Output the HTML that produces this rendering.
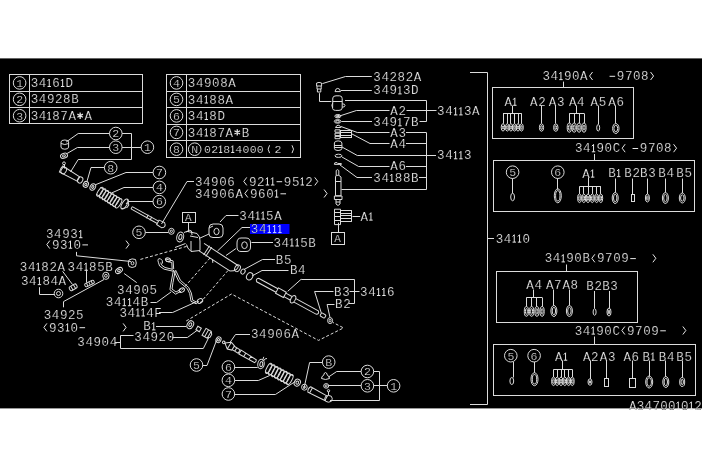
<!DOCTYPE html>
<html><head><meta charset="utf-8"><style>
html,body{margin:0;padding:0;background:#fff;}
svg{display:block;-webkit-font-smoothing:antialiased;will-change:transform;}
text{font-family:"Liberation Mono",monospace;stroke:#000;stroke-width:0.2px;}
</style></head><body>
<svg width="702" height="468" viewBox="0 0 702 468">
<rect x="0" y="0" width="702" height="468" fill="#ffffff"/>
<rect x="0" y="58.4" width="702" height="350" fill="#000000"/>
<g fill="none" stroke="#dcdcdc" stroke-width="1">
<rect x="9.5" y="74.5" width="133.0" height="49.0"/>
<polyline points="29.50,74.50 29.50,123.80"/>
<polyline points="9.80,91.50 142.80,91.50"/>
<polyline points="9.80,107.50 142.80,107.50"/>
<circle cx="19.6" cy="82.9" r="6.3"/>
<text x="16.2" y="86.7" font-size="11.5" fill="#dcdcdc" stroke="none">1</text>
<path d="M47.55,80.89 L49.25,79.09 L49.25,86.51 M47.55,86.51 L50.95,86.51" stroke="#e6e6e6"/>
<path d="M60.95,80.89 L62.65,79.09 L62.65,86.51 M60.95,86.51 L64.35,86.51" stroke="#e6e6e6"/>
<text x="30.7 38.8 52.2 65.6" y="87.0" font-size="12.5" fill="#e6e6e6" >346D</text>
<circle cx="19.6" cy="99.30000000000001" r="6.3"/>
<text x="16.2" y="103.1" font-size="11.5" fill="#dcdcdc" stroke="none">2</text>
<text x="30.7 38.8 46.9 55.0 63.1 71.2" y="103.4" font-size="12.5" fill="#e6e6e6" >34928B</text>
<circle cx="19.6" cy="115.7" r="6.3"/>
<text x="16.2" y="119.5" font-size="11.5" fill="#dcdcdc" stroke="none">3</text>
<path d="M47.55,113.69 L49.25,111.89 L49.25,119.31 M47.55,119.31 L50.95,119.31" stroke="#e6e6e6"/>
<path d="M80.15,112.50 L80.15,118.90 M77.37,114.10 L82.93,117.30 M77.37,117.30 L82.93,114.10" stroke="#e6e6e6" stroke-width="1.3"/>
<text x="30.7 38.8 52.2 60.3 68.4 84.6" y="119.8" font-size="12.5" fill="#e6e6e6" >3487AA</text>
<rect x="166.5" y="74.5" width="134.0" height="83.0"/>
<polyline points="186.50,74.50 186.50,157.70"/>
<polyline points="166.60,91.50 300.50,91.50"/>
<polyline points="166.60,107.50 300.50,107.50"/>
<polyline points="166.60,124.50 300.50,124.50"/>
<polyline points="166.60,140.50 300.50,140.50"/>
<circle cx="176.5" cy="82.9" r="6.3"/>
<text x="173.1" y="86.7" font-size="11.5" fill="#dcdcdc" stroke="none">4</text>
<text x="187.8 195.9 204.0 212.1 220.2 228.3" y="87.0" font-size="12.5" fill="#e6e6e6" >34908A</text>
<circle cx="176.5" cy="99.4" r="6.3"/>
<text x="173.1" y="103.2" font-size="11.5" fill="#dcdcdc" stroke="none">5</text>
<path d="M204.65,97.39 L206.35,95.59 L206.35,103.01 M204.65,103.01 L208.05,103.01" stroke="#e6e6e6"/>
<text x="187.8 195.9 209.3 217.4 225.5" y="103.5" font-size="12.5" fill="#e6e6e6" >3488A</text>
<circle cx="176.5" cy="115.9" r="6.3"/>
<text x="173.1" y="119.7" font-size="11.5" fill="#dcdcdc" stroke="none">6</text>
<path d="M204.65,113.89 L206.35,112.09 L206.35,119.51 M204.65,119.51 L208.05,119.51" stroke="#e6e6e6"/>
<text x="187.8 195.9 209.3 217.4" y="120.0" font-size="12.5" fill="#e6e6e6" >348D</text>
<circle cx="176.5" cy="132.4" r="6.3"/>
<text x="173.1" y="136.2" font-size="11.5" fill="#dcdcdc" stroke="none">7</text>
<path d="M204.65,130.39 L206.35,128.59 L206.35,136.01 M204.65,136.01 L208.05,136.01" stroke="#e6e6e6"/>
<path d="M237.25,129.20 L237.25,135.60 M234.47,130.80 L240.03,134.00 M234.47,134.00 L240.03,130.80" stroke="#e6e6e6" stroke-width="1.3"/>
<text x="187.8 195.9 209.3 217.4 225.5 241.7" y="136.5" font-size="12.5" fill="#e6e6e6" >3487AB</text>
<circle cx="176.5" cy="149.2" r="6.3"/>
<text x="173.1" y="153.0" font-size="11.5" fill="#dcdcdc" stroke="none">8</text>
<circle cx="194.7" cy="149.2" r="6.3"/>
<text x="191.2" y="153.0" font-size="11.5" fill="#dcdcdc" stroke="none">N</text>
<path d="M219.14,147.37 L220.72,145.72 L220.72,152.48 M219.14,152.48 L222.27,152.48" stroke="#e6e6e6"/>
<path d="M231.20,147.37 L232.77,145.72 L232.77,152.48 M231.20,152.48 L234.32,152.48" stroke="#e6e6e6"/>
<text x="204.0 211.2 223.2 235.3 242.5 249.7 256.8" y="153.0" font-size="11.5" fill="#e6e6e6" >0284000</text>
<path d="M269.6,145.3 Q266.6,149.2 269.6,153.1"/>
<text x="274.5" y="153.0" font-size="11.5" fill="#e6e6e6" >2</text>
<path d="M292,145.3 Q295,149.2 292,153.1"/>
<polyline points="470.00,72.50 487.50,72.50 487.50,404.50 470.00,404.50"/>
<polyline points="487.50,238.50 494.00,238.50"/>
<path d="M512.55,236.49 L514.25,234.69 L514.25,242.11 M512.55,242.11 L515.95,242.11" stroke="#e6e6e6"/>
<path d="M517.85,236.49 L519.55,234.69 L519.55,242.11 M517.85,242.11 L521.25,242.11" stroke="#e6e6e6"/>
<text x="495.7 503.8 522.5" y="242.6" font-size="12.5" fill="#e6e6e6" >340</text>
<rect x="492.5" y="87.5" width="141.0" height="51.0"/>
<path d="M559.25,73.99 L560.95,72.19 L560.95,79.61 M559.25,79.61 L562.65,79.61" stroke="#e6e6e6"/>
<polyline points="592.55,72.00 589.55,76.00 592.55,80.00" stroke="#e6e6e6"/>
<path d="M609.55,76.30 L615.15,76.30" stroke="#e6e6e6"/>
<polyline points="650.55,72.00 653.55,76.00 650.55,80.00" stroke="#e6e6e6"/>
<text x="542.4 550.5 563.9 572.0 580.1 616.8 624.9 633.0 641.1" y="80.1" font-size="12.5" fill="#e6e6e6" >3490A9708</text>
<polyline points="563.50,81.60 563.50,87.80"/>
<rect x="493.5" y="160.5" width="201.0" height="51.0"/>
<path d="M591.85,146.19 L593.55,144.39 L593.55,151.81 M591.85,151.81 L595.25,151.81" stroke="#e6e6e6"/>
<polyline points="625.15,144.20 622.15,148.20 625.15,152.20" stroke="#e6e6e6"/>
<text x="575.0 583.1 596.5 604.6 612.7" y="152.3" font-size="12.5" fill="#e6e6e6" >3490C</text>
<path d="M632.55,148.50 L638.15,148.50" stroke="#e6e6e6"/>
<polyline points="673.55,144.20 676.55,148.20 673.55,152.20" stroke="#e6e6e6"/>
<text x="639.8 647.9 656.0 664.1" y="152.3" font-size="12.5" fill="#e6e6e6" >9708</text>
<polyline points="594.50,154.00 594.50,160.70"/>
<rect x="496.5" y="271.5" width="141.0" height="51.0"/>
<path d="M561.55,256.29 L563.25,254.49 L563.25,261.91 M561.55,261.91 L564.95,261.91" stroke="#e6e6e6"/>
<polyline points="594.85,254.30 591.85,258.30 594.85,262.30" stroke="#e6e6e6"/>
<path d="M630.25,258.60 L635.85,258.60" stroke="#e6e6e6"/>
<polyline points="652.85,254.30 655.85,258.30 652.85,262.30" stroke="#e6e6e6"/>
<text x="544.7 552.8 566.2 574.3 582.4 597.0 605.1 613.2 621.3" y="262.4" font-size="12.5" fill="#e6e6e6" >3490B9709</text>
<polyline points="566.50,264.50 566.50,271.40"/>
<rect x="493.5" y="344.5" width="202.0" height="51.0"/>
<path d="M591.55,328.49 L593.25,326.69 L593.25,334.11 M591.55,334.11 L594.95,334.11" stroke="#e6e6e6"/>
<polyline points="624.85,326.50 621.85,330.50 624.85,334.50" stroke="#e6e6e6"/>
<path d="M660.25,330.80 L665.85,330.80" stroke="#e6e6e6"/>
<polyline points="682.85,326.50 685.85,330.50 682.85,334.50" stroke="#e6e6e6"/>
<text x="574.7 582.8 596.2 604.3 612.4 627.0 635.1 643.2 651.3" y="334.6" font-size="12.5" fill="#e6e6e6" >3490C9709</text>
<polyline points="594.50,336.50 594.50,344.60"/>
<path d="M676.60,403.59 L678.30,401.79 L678.30,409.21 M676.60,409.21 L680.00,409.21" stroke="#e6e6e6"/>
<path d="M689.70,403.59 L691.40,401.79 L691.40,409.21 M689.70,409.21 L693.10,409.21" stroke="#e6e6e6"/>
<text x="629.0 636.8 644.6 652.4 660.2 668.0 681.1 694.2" y="409.7" font-size="12.5" fill="#e6e6e6" >A3470002</text>
<text x="373.3 381.4 389.5 397.6 405.7 413.8" y="81.1" font-size="12.5" fill="#e6e6e6" >34282A</text>
<path d="M398.25,88.29 L399.95,86.49 L399.95,93.91 M398.25,93.91 L401.65,93.91" stroke="#e6e6e6"/>
<text x="373.3 381.4 389.5 402.9 411.0" y="94.4" font-size="12.5" fill="#e6e6e6" >3493D</text>
<text x="390.3 398.4" y="115.4" font-size="12.5" fill="#e6e6e6" >A2</text>
<path d="M453.95,109.29 L455.65,107.49 L455.65,114.91 M453.95,114.91 L457.35,114.91" stroke="#e6e6e6"/>
<path d="M459.25,109.29 L460.95,107.49 L460.95,114.91 M459.25,114.91 L462.65,114.91" stroke="#e6e6e6"/>
<text x="437.1 445.2 463.9 472.0" y="115.4" font-size="12.5" fill="#e6e6e6" >343A</text>
<path d="M398.25,120.19 L399.95,118.39 L399.95,125.81 M398.25,125.81 L401.65,125.81" stroke="#e6e6e6"/>
<text x="373.3 381.4 389.5 402.9 411.0" y="126.3" font-size="12.5" fill="#e6e6e6" >3497B</text>
<text x="390.3 398.4" y="137.3" font-size="12.5" fill="#e6e6e6" >A3</text>
<text x="390.3 398.4" y="147.8" font-size="12.5" fill="#e6e6e6" >A4</text>
<path d="M453.95,153.19 L455.65,151.39 L455.65,158.81 M453.95,158.81 L457.35,158.81" stroke="#e6e6e6"/>
<path d="M459.25,153.19 L460.95,151.39 L460.95,158.81 M459.25,158.81 L462.65,158.81" stroke="#e6e6e6"/>
<text x="437.1 445.2 463.9" y="159.3" font-size="12.5" fill="#e6e6e6" >343</text>
<text x="390.3 398.4" y="169.6" font-size="12.5" fill="#e6e6e6" >A6</text>
<path d="M390.15,175.79 L391.85,173.99 L391.85,181.41 M390.15,181.41 L393.55,181.41" stroke="#e6e6e6"/>
<text x="373.3 381.4 394.8 402.9 411.0" y="181.9" font-size="12.5" fill="#e6e6e6" >3488B</text>
<path d="M369.25,214.49 L370.95,212.69 L370.95,220.11 M369.25,220.11 L372.65,220.11" stroke="#e6e6e6"/>
<text x="360.5" y="220.6" font-size="12.5" fill="#e6e6e6" >A</text>
<polyline points="246.75,177.40 243.75,181.40 246.75,185.40" stroke="#e6e6e6"/>
<path d="M265.75,179.39 L267.45,177.59 L267.45,185.01 M265.75,185.01 L269.15,185.01" stroke="#e6e6e6"/>
<path d="M271.05,179.39 L272.75,177.59 L272.75,185.01 M271.05,185.01 L274.45,185.01" stroke="#e6e6e6"/>
<path d="M276.55,181.70 L282.15,181.70" stroke="#e6e6e6"/>
<path d="M300.65,179.39 L302.35,177.59 L302.35,185.01 M300.65,185.01 L304.05,185.01" stroke="#e6e6e6"/>
<polyline points="314.75,177.40 317.75,181.40 314.75,185.40" stroke="#e6e6e6"/>
<text x="194.9 203.0 211.1 219.2 227.3 248.9 257.0 283.8 291.9 305.3" y="185.5" font-size="12.5" fill="#e6e6e6" >3490692952</text>
<polyline points="247.85,189.50 244.85,193.50 247.85,197.50" stroke="#e6e6e6"/>
<path d="M274.95,191.49 L276.65,189.69 L276.65,197.11 M274.95,197.11 L278.35,197.11" stroke="#e6e6e6"/>
<path d="M280.45,193.80 L286.05,193.80" stroke="#e6e6e6"/>
<polyline points="324.05,189.50 327.05,193.50 324.05,197.50" stroke="#e6e6e6"/>
<text x="194.9 203.0 211.1 219.2 227.3 235.4 250.0 258.1 266.2" y="197.6" font-size="12.5" fill="#e6e6e6" >34906A960</text>
<path d="M256.15,213.49 L257.85,211.69 L257.85,219.11 M256.15,219.11 L259.55,219.11" stroke="#e6e6e6"/>
<path d="M261.45,213.49 L263.15,211.69 L263.15,219.11 M261.45,219.11 L264.85,219.11" stroke="#e6e6e6"/>
<text x="239.3 247.4 266.1 274.2" y="219.6" font-size="12.5" fill="#e6e6e6" >345A</text>
<rect x="250" y="224" width="39.5" height="10" fill="#0000ff" stroke="none"/>
<path d="M267.65,226.99 L269.35,225.19 L269.35,232.61 M267.65,232.61 L271.05,232.61" stroke="#c8d8ff"/>
<path d="M272.95,226.99 L274.65,225.19 L274.65,232.61 M272.95,232.61 L276.35,232.61" stroke="#c8d8ff"/>
<path d="M278.25,226.99 L279.95,225.19 L279.95,232.61 M278.25,232.61 L281.65,232.61" stroke="#c8d8ff"/>
<text x="250.8 258.9" y="233.1" font-size="12.5" fill="#c8d8ff" >34</text>
<path d="M290.25,240.39 L291.95,238.59 L291.95,246.01 M290.25,246.01 L293.65,246.01" stroke="#e6e6e6"/>
<path d="M295.55,240.39 L297.25,238.59 L297.25,246.01 M295.55,246.01 L298.95,246.01" stroke="#e6e6e6"/>
<text x="273.4 281.5 300.2 308.3" y="246.5" font-size="12.5" fill="#e6e6e6" >345B</text>
<text x="275.8 283.9" y="263.7" font-size="12.5" fill="#e6e6e6" >B5</text>
<text x="289.9 298.0" y="274.3" font-size="12.5" fill="#e6e6e6" >B4</text>
<text x="334.1 342.2" y="296.0" font-size="12.5" fill="#e6e6e6" >B3</text>
<path d="M376.95,289.89 L378.65,288.09 L378.65,295.51 M376.95,295.51 L380.35,295.51" stroke="#e6e6e6"/>
<path d="M382.25,289.89 L383.95,288.09 L383.95,295.51 M382.25,295.51 L385.65,295.51" stroke="#e6e6e6"/>
<text x="360.1 368.2 386.9" y="296.0" font-size="12.5" fill="#e6e6e6" >346</text>
<text x="335.1 343.2" y="307.6" font-size="12.5" fill="#e6e6e6" >B2</text>
<text x="251.0 259.1 267.2 275.3 283.4 291.5" y="338.3" font-size="12.5" fill="#e6e6e6" >34906A</text>
<path d="M79.05,232.09 L80.75,230.29 L80.75,237.71 M79.05,237.71 L82.45,237.71" stroke="#e6e6e6"/>
<text x="46.0 54.1 62.2 70.3" y="238.2" font-size="12.5" fill="#e6e6e6" >3493</text>
<polyline points="49.80,240.60 46.80,244.60 49.80,248.60" stroke="#e6e6e6"/>
<path d="M68.80,242.59 L70.50,240.79 L70.50,248.21 M68.80,248.21 L72.20,248.21" stroke="#e6e6e6"/>
<path d="M82.40,244.90 L88.00,244.90" stroke="#e6e6e6"/>
<polyline points="126.00,240.60 129.00,244.60 126.00,248.60" stroke="#e6e6e6"/>
<text x="51.9 60.0 73.4" y="248.7" font-size="12.5" fill="#e6e6e6" >930</text>
<path d="M36.65,264.69 L38.35,262.89 L38.35,270.31 M36.65,270.31 L40.05,270.31" stroke="#e6e6e6"/>
<text x="19.8 27.9 41.3 49.4 57.5" y="270.8" font-size="12.5" fill="#e6e6e6" >3482A</text>
<path d="M84.45,264.69 L86.15,262.89 L86.15,270.31 M84.45,270.31 L87.85,270.31" stroke="#e6e6e6"/>
<text x="67.6 75.7 89.1 97.2 105.3" y="270.8" font-size="12.5" fill="#e6e6e6" >3485B</text>
<path d="M37.75,278.99 L39.45,277.19 L39.45,284.61 M37.75,284.61 L41.15,284.61" stroke="#e6e6e6"/>
<text x="20.9 29.0 42.4 50.5 58.6" y="285.1" font-size="12.5" fill="#e6e6e6" >3484A</text>
<text x="117.1 125.2 133.3 141.4 149.5" y="293.7" font-size="12.5" fill="#e6e6e6" >34905</text>
<path d="M122.65,300.09 L124.35,298.29 L124.35,305.71 M122.65,305.71 L126.05,305.71" stroke="#e6e6e6"/>
<path d="M127.95,300.09 L129.65,298.29 L129.65,305.71 M127.95,305.71 L131.35,305.71" stroke="#e6e6e6"/>
<text x="105.8 113.9 132.6 140.7" y="306.2" font-size="12.5" fill="#e6e6e6" >344B</text>
<path d="M136.25,310.39 L137.95,308.59 L137.95,316.01 M136.25,316.01 L139.65,316.01" stroke="#e6e6e6"/>
<path d="M141.55,310.39 L143.25,308.59 L143.25,316.01 M141.55,316.01 L144.95,316.01" stroke="#e6e6e6"/>
<text x="119.4 127.5 146.2 154.3" y="316.5" font-size="12.5" fill="#e6e6e6" >344F</text>
<text x="43.7 51.8 59.9 68.0 76.1" y="318.7" font-size="12.5" fill="#e6e6e6" >34925</text>
<polyline points="46.90,323.40 43.90,327.40 46.90,331.40" stroke="#e6e6e6"/>
<path d="M65.90,325.39 L67.60,323.59 L67.60,331.01 M65.90,331.01 L69.30,331.01" stroke="#e6e6e6"/>
<path d="M79.50,327.70 L85.10,327.70" stroke="#e6e6e6"/>
<polyline points="123.10,323.40 126.10,327.40 123.10,331.40" stroke="#e6e6e6"/>
<text x="49.0 57.1 70.5" y="331.5" font-size="12.5" fill="#e6e6e6" >930</text>
<path d="M152.05,324.29 L153.75,322.49 L153.75,329.91 M152.05,329.91 L155.45,329.91" stroke="#e6e6e6"/>
<text x="143.3" y="330.4" font-size="12.5" fill="#e6e6e6" >B</text>
<text x="134.3 142.4 150.5 158.6 166.7" y="341.1" font-size="12.5" fill="#e6e6e6" >34920</text>
<text x="77.3 85.4 93.5 101.6 109.7" y="346.1" font-size="12.5" fill="#e6e6e6" >34904</text>
<circle cx="115.8" cy="133.5" r="6.3"/>
<text x="112.3" y="137.3" font-size="11.5" fill="#dcdcdc" stroke="none">2</text>
<circle cx="115.8" cy="147.2" r="6.3"/>
<text x="112.3" y="151.0" font-size="11.5" fill="#dcdcdc" stroke="none">3</text>
<circle cx="147.4" cy="147.2" r="6.3"/>
<text x="144.0" y="151.0" font-size="11.5" fill="#dcdcdc" stroke="none">1</text>
<circle cx="110.7" cy="167.7" r="6.3"/>
<text x="107.2" y="171.5" font-size="11.5" fill="#dcdcdc" stroke="none">8</text>
<circle cx="159.4" cy="172.5" r="6.3"/>
<text x="156.0" y="176.3" font-size="11.5" fill="#dcdcdc" stroke="none">7</text>
<circle cx="159.4" cy="187.4" r="6.3"/>
<text x="156.0" y="191.2" font-size="11.5" fill="#dcdcdc" stroke="none">4</text>
<circle cx="159.3" cy="201.6" r="6.3"/>
<text x="155.9" y="205.4" font-size="11.5" fill="#dcdcdc" stroke="none">6</text>
<circle cx="139.0" cy="232.3" r="6.3"/>
<text x="135.6" y="236.1" font-size="11.5" fill="#dcdcdc" stroke="none">5</text>
<polyline points="109.50,133.50 78.20,133.50 66.20,142.00"/>
<polyline points="109.50,147.50 77.40,147.50 66.20,154.00"/>
<polyline points="122.10,133.50 131.50,133.50 131.50,159.50 78.20,159.50 70.50,172.00"/>
<polyline points="122.10,147.50 141.10,147.50"/>
<polyline points="104.40,167.50 91.00,167.50 86.80,182.00"/>
<polyline points="153.10,172.50 126.00,172.50 95.30,184.80"/>
<polyline points="153.10,187.50 124.00,187.50 111.50,193.00"/>
<polyline points="153.00,201.50 128.00,201.50 126.00,204.00"/>
<polyline points="145.30,232.50 168.50,232.50"/>
<polyline points="194.00,181.50 187.00,181.50 161.50,224.00"/>
<rect x="182.5" y="212.5" width="13.0" height="10.0"/>
<text x="185.1" y="220.7" font-size="11" fill="#e6e6e6" >A</text>
<polyline points="188.50,222.20 188.50,232.00"/>
<polyline points="238.50,215.50 226.00,215.50 220.00,222.00"/>
<polyline points="250.00,227.50 242.00,227.50 217.50,251.00"/>
<polyline points="273.00,242.50 251.50,242.50"/>
<polyline points="236.00,248.50 226.00,255.50"/>
<polyline points="275.00,259.50 262.50,259.50 244.00,269.50"/>
<polyline points="288.50,270.50 262.00,270.50 252.00,276.00"/>
<polyline points="301.20,279.50 354.50,279.50 354.50,303.50 349.00,303.50"/>
<polyline points="349.50,291.50 359.50,291.50"/>
<polyline points="301.20,279.20 287.70,291.30"/>
<polyline points="333.50,291.50 314.60,291.50 321.30,313.00"/>
<polyline points="334.50,304.50 327.10,304.50 330.00,317.50"/>
<polyline points="76.50,251.90 76.50,255.80 131.00,261.50"/>
<polyline points="62.60,271.30 72.50,284.50"/>
<polyline points="86.50,269.50 86.50,282.50"/>
<polyline points="39.50,287.20 39.50,294.50 54.50,294.50"/>
<polyline points="136.70,282.60 124.10,273.50"/>
<polyline points="63.50,307.30 63.50,301.60 104.00,279.50"/>
<polyline points="150.50,302.50 156.60,302.50 171.00,292.00"/>
<polyline points="159.00,312.50 172.60,312.50 196.50,301.70"/>
<polyline points="156.00,326.50 186.20,326.50"/>
<polyline points="172.50,337.50 187.40,337.50 197.60,330.00"/>
<polyline points="115.00,342.50 120.60,342.50"/>
<polyline points="133.50,335.50 120.50,335.50 120.50,348.50 203.30,348.50 208.50,338.00"/>
<polyline points="250.00,334.50 235.50,334.50 229.80,342.70"/>
<circle cx="196.5" cy="365" r="6.3"/>
<text x="193.1" y="368.8" font-size="11.5" fill="#dcdcdc" stroke="none">5</text>
<circle cx="228.4" cy="367" r="6.3"/>
<text x="225.0" y="370.8" font-size="11.5" fill="#dcdcdc" stroke="none">6</text>
<circle cx="228.4" cy="380.3" r="6.3"/>
<text x="225.0" y="384.1" font-size="11.5" fill="#dcdcdc" stroke="none">4</text>
<circle cx="228.4" cy="394" r="6.3"/>
<text x="225.0" y="397.8" font-size="11.5" fill="#dcdcdc" stroke="none">7</text>
<circle cx="328.7" cy="362.1" r="6.3"/>
<text x="325.2" y="365.9" font-size="11.5" fill="#dcdcdc" stroke="none">B</text>
<circle cx="367.4" cy="371.5" r="6.3"/>
<text x="363.9" y="375.3" font-size="11.5" fill="#dcdcdc" stroke="none">2</text>
<circle cx="367.4" cy="385.8" r="6.3"/>
<text x="363.9" y="389.6" font-size="11.5" fill="#dcdcdc" stroke="none">3</text>
<circle cx="393.6" cy="385.8" r="6.3"/>
<text x="390.2" y="389.6" font-size="11.5" fill="#dcdcdc" stroke="none">1</text>
<polyline points="202.80,365.50 207.00,365.50 216.50,340.50"/>
<polyline points="234.70,367.50 257.70,367.50"/>
<polyline points="234.70,380.50 258.30,380.50 269.70,375.50"/>
<polyline points="234.70,394.50 275.40,394.50 295.30,381.50"/>
<polyline points="322.40,362.50 309.60,362.50 303.90,389.00"/>
<polyline points="361.10,371.50 336.70,371.50 328.50,377.00"/>
<polyline points="361.10,385.50 328.50,385.50"/>
<polyline points="373.70,371.50 379.50,371.50 379.50,400.50 330.00,400.50"/>
<polyline points="373.70,385.50 387.30,385.50"/>
<polyline points="322.40,83.60 345.50,76.50 371.80,76.50"/>
<polyline points="341.00,90.50 371.80,90.50"/>
<polyline points="319.50,93.20 319.50,101.50 331.40,101.50"/>
<polyline points="345.00,100.50 426.50,100.50 426.50,121.50 419.50,121.50"/>
<polyline points="336.50,117.00 356.40,110.50 389.50,110.50"/>
<polyline points="406.50,110.50 436.50,110.50"/>
<polyline points="341.30,121.50 372.00,121.50"/>
<polyline points="341.00,126.50 357.30,132.50 389.50,132.50"/>
<polyline points="406.00,132.50 426.00,132.50"/>
<polyline points="352.00,134.00 370.00,143.50 389.50,143.50"/>
<polyline points="406.00,143.50 426.00,143.50"/>
<polyline points="342.00,147.00 357.30,155.50 436.00,155.50"/>
<polyline points="342.00,157.00 358.60,166.50 389.50,166.50"/>
<polyline points="406.00,166.50 426.00,166.50"/>
<polyline points="340.00,165.00 357.00,177.50 372.00,177.50"/>
<polyline points="419.00,177.50 426.00,177.50"/>
<polyline points="426.50,132.30 426.50,189.50 341.50,189.50"/>
<polyline points="352.50,216.50 360.20,216.50"/>
<polyline points="338.50,222.70 338.50,232.30"/>
<rect x="331.5" y="232.5" width="13.0" height="12.0"/>
<text x="334.2" y="242.1" font-size="11" fill="#e6e6e6" >A</text>
<path d="M61,142 Q61,140 64.8,140 Q68.6,140 68.6,142 L68.6,147 Q68.6,149.2 64.8,149.2 Q61,149.2 61,147 Z M61,143.5 Q64.8,145.5 68.6,143.5"/>
<ellipse cx="64" cy="155.8" rx="3.6" ry="2.4" transform="rotate(-20 64 155.8)"/>
<ellipse cx="64" cy="155.8" rx="1.5" ry="1.0" transform="rotate(-20 64 155.8)"/>
<ellipse cx="64" cy="163.3" rx="1.4" ry="1.4"/>
<polyline points="64.50,164.70 64.50,168.50"/>
<g transform="translate(71.5 175) rotate(30)"><path d="M-12,-3.5 Q-13,0 -12,3.5 L8,2.5 L8,-2.5 Z"/><ellipse cx="10" cy="0" rx="2.5" ry="3.2"/><ellipse cx="-9" cy="0" rx="2.5" ry="3.5"/></g>
<ellipse cx="85.8" cy="184.4" rx="2.5" ry="3.0" transform="rotate(30 85.8 184.4)"/>
<ellipse cx="85.8" cy="184.4" rx="1.0" ry="1.2" transform="rotate(30 85.8 184.4)"/>
<ellipse cx="92.8" cy="187.0" rx="2.6" ry="3.4" transform="rotate(30 92.8 187.0)"/>
<ellipse cx="92.8" cy="187.0" rx="1.0" ry="1.4" transform="rotate(30 92.8 187.0)"/>
<g transform="translate(109.3 197.6) rotate(32)"><ellipse cx="-11.0" cy="0" rx="1.9" ry="5.2"/><ellipse cx="-7.9" cy="0" rx="1.9" ry="5.2"/><ellipse cx="-4.7" cy="0" rx="1.9" ry="5.2"/><ellipse cx="-1.6" cy="0" rx="1.9" ry="5.2"/><ellipse cx="1.6" cy="0" rx="1.9" ry="5.2"/><ellipse cx="4.7" cy="0" rx="1.9" ry="5.2"/><ellipse cx="7.9" cy="0" rx="1.9" ry="5.2"/><ellipse cx="11.0" cy="0" rx="1.9" ry="5.2"/></g>
<g transform="translate(109.3 197.6) rotate(32)"><path d="M-13,-4 L11,-5 M-13,4 L11,5"/></g>
<g transform="translate(124.6 204.0) rotate(32)"><ellipse cx="0" cy="0" rx="2.4" ry="5.6"/><path d="M0,-5.6 L4,-1.5 L4,1.5 L0,5.6"/></g>
<g transform="translate(146.5 216.0) rotate(29)"><path d="M-17,-1.3 L13,-1.3 M-17,1.3 L13,1.3 M-17,-1.3 L-17,1.3"/><path d="M1,-2 L1,2 M5,-2 L5,2"/><path d="M13,-2.5 L19,-3 Q23,0 19,3 L13,2.5 Z"/></g>
<ellipse cx="171.4" cy="231.3" rx="2.8" ry="3.0"/>
<ellipse cx="171.4" cy="231.3" rx="1.0" ry="1.2"/>
<ellipse cx="180.2" cy="237" rx="3.4" ry="5.0" transform="rotate(15 180.2 237)"/>
<ellipse cx="180.4" cy="237" rx="1.5" ry="2.6" transform="rotate(15 180.4 237)"/>
<path d="M184,232.5 Q187,230.5 190,232 L197,233.5 Q200.5,237 200,241 L200,250.5 L191,251.5 Q187,248 186.5,244.5"/>
<path d="M186.5,232 Q188.5,228.5 191.5,231 L192,235 M190,236 L198,237.5 M191,241 L191,251"/>
<polyline points="185.50,243.50 175.00,247.50"/>
<g transform="translate(217.5 257.5) rotate(33)"><path d="M-19,-4.5 L22,-4.5 M-19,4.5 L18,4.5 M22,-4.5 Q24.5,0 18,4.5"/><path d="M-13,-5.5 L-13,5.5 M-10.5,-5.5 L-10.5,5.5"/><path d="M-3,4.5 L-1,7"/></g>
<path d="M209,228 Q209,224 213,224 L219,224 Q223,224 223,228 L223,234 Q223,237.5 219,237.5 L213,237.5 Q209,237.5 209,234 Z"/>
<ellipse cx="216.5" cy="231.5" rx="2.6" ry="3.2"/>
<path d="M209,228 L213,226"/>
<path d="M237,243 Q237,238 241,238 L246,238 Q250.5,238 250.5,243 L250.5,247 Q250.5,251.5 246,251.5 L241,251.5 Q237,251.5 237,247 Z"/>
<ellipse cx="244.5" cy="245.2" rx="2.8" ry="3.4"/>
<polyline points="209.00,234.00 199.00,238.50"/>
<ellipse cx="237.5" cy="268.3" rx="2.6" ry="3.6" transform="rotate(30 237.5 268.3)"/>
<ellipse cx="243.0" cy="271.6" rx="2.0" ry="2.6" transform="rotate(30 243.0 271.6)"/>
<ellipse cx="249.7" cy="276.3" rx="3.0" ry="3.8" transform="rotate(30 249.7 276.3)"/>
<g transform="translate(287.5 296.3) rotate(28.6)"><path d="M-34,-2 L-12,-2 M-3,-2 L4,-2 M8.5,-2 L34,-2 Q36.5,0 34,2 L8.5,2 M4,2 L-3,2 M-12,2 L-34,2 Q-36.5,0 -34,-2"/><path d="M-12,-3 L-3,-3 L-3,3 L-12,3 Z"/><ellipse cx="6.3" cy="0" rx="2.2" ry="4"/></g>
<g transform="translate(323 315.5) rotate(30)"><rect x="-2.6" y="-1.8" width="5.2" height="3.6" rx="1"/></g>
<ellipse cx="330.1" cy="320.6" rx="2.5" ry="3.0"/>
<ellipse cx="330.1" cy="320.6" rx="1.0" ry="1.3"/>
<polyline points="140.40,259.40 188.00,246.00" stroke-dasharray="3,2"/>
<polyline points="210.00,258.00 181.00,291.00" stroke-dasharray="3,2"/>
<polyline points="228.00,270.50 200.00,303.00" stroke-dasharray="3,2"/>
<polyline points="186.20,321.00 231.50,294.00 318.50,340.40 343.50,327.90 333.00,322.50" stroke-dasharray="3,2"/>
<path d="M129,260 Q132,258 135.5,259.5 Q137,263 135.5,266.5 Q132,268.5 129,266.5 Q127.5,263 129,260 Z"/>
<ellipse cx="132.5" cy="263.2" rx="1.4" ry="1.6"/>
<path d="M158.3,262.2 Q157,258 160.5,258.8 Q163,260 162.5,263.5"/>
<polyline points="158.30,262.20 159.60,266.00 164.10,269.20 173.10,271.20"/>
<polyline points="160.80,262.50 161.50,265.00 165.00,267.50 172.50,269.30"/>
<ellipse cx="168" cy="259.8" rx="2.6" ry="1.8" transform="rotate(15 168 259.8)"/>
<polyline points="165.40,259.00 173.10,260.90 173.70,269.20"/>
<polyline points="166.00,261.20 171.80,262.50 172.20,269.50"/>
<polyline points="173.50,270.00 171.20,282.00 169.90,289.70 175.60,294.20 181.40,291.00"/>
<polyline points="175.20,271.00 173.00,282.50 172.00,289.00 176.00,292.00 180.40,289.50"/>
<ellipse cx="181.8" cy="290.2" rx="2.8" ry="2.0" transform="rotate(-30 181.8 290.2)"/>
<polyline points="173.50,270.00 178.80,281.40 187.20,288.50 189.70,293.60 191.00,301.30 196.20,303.80 199.00,301.30"/>
<polyline points="175.50,270.00 180.50,280.40 188.70,287.50 191.30,293.00 192.80,300.30 196.50,302.00"/>
<ellipse cx="200" cy="301" rx="2.8" ry="2.2" transform="rotate(-30 200 301)"/>
<g transform="translate(73.2 287.3) rotate(-30)"><rect x="-4" y="-2.2" width="8" height="4.4" rx="1.5"/><path d="M-1.5,-2.2 L-1.5,2.2 M1.5,-2.2 L1.5,2.2"/></g>
<g transform="translate(89.5 283.5) rotate(-25)"><rect x="-5" y="-1.8" width="10" height="3.6" rx="1.5"/><path d="M-2.5,-1.8 L-2.5,1.8 M0,-1.8 L0,1.8 M2.5,-1.8 L2.5,1.8"/></g>
<ellipse cx="58.5" cy="293.5" rx="4.3" ry="4.3"/>
<ellipse cx="58.5" cy="293.5" rx="2.0" ry="2.0"/>
<ellipse cx="105.9" cy="275.8" rx="3.2" ry="3.6"/>
<ellipse cx="105.9" cy="275.8" rx="1.3" ry="1.5"/>
<g transform="translate(119 270.5) rotate(-35)"><ellipse cx="0" cy="0" rx="3.8" ry="2.4"/><ellipse cx="0" cy="0" rx="1.5" ry="1"/></g>
<ellipse cx="190.3" cy="324.7" rx="3.0" ry="4.2" transform="rotate(30 190.3 324.7)"/>
<ellipse cx="190.3" cy="324.7" rx="1.3" ry="2.0" transform="rotate(30 190.3 324.7)"/>
<g transform="translate(198.6 329) rotate(30)"><rect x="-2" y="-2" width="4" height="4"/></g>
<g transform="translate(207.5 333.8) rotate(30)"><path d="M-4,-4 L2,-4 L4,-1.5 L4,1.5 L2,4 L-4,4 Z M-1,-4 L-1,4 M2,-4 L2,4"/></g>
<ellipse cx="218.5" cy="339.7" rx="2.4" ry="3.0" transform="rotate(30 218.5 339.7)"/>
<ellipse cx="218.5" cy="339.7" rx="1.0" ry="1.2" transform="rotate(30 218.5 339.7)"/>
<g transform="translate(239.6 351.8) rotate(30.8)"><circle cx="-18.5" cy="0" r="1.3"/><path d="M-17,0 L-12,-4 L-7.5,-2.5 L-7.5,2.5 L-12,4 Z M-12,-4 L-12,4"/><path d="M-7.5,-2 L-0.5,-2 L-0.5,2 L-7.5,2 M-4.5,-2 L-4.5,2"/><path d="M0.5,-2.2 L18.5,-1.6 Q19.5,0 18.5,1.6 L0.5,2.2 Z M6,-2 L6,2 M12,-1.8 L12,1.8"/></g>
<ellipse cx="261" cy="364" rx="3.2" ry="4.7" transform="rotate(10 261 364)"/>
<ellipse cx="261.3" cy="364.2" rx="1.4" ry="2.6" transform="rotate(10 261.3 364.2)"/>
<polyline points="262.50,360.50 263.80,356.80"/>
<path d="M263.5,361 Q265,358 267,358.5"/>
<g transform="translate(279.3 374.0) rotate(28)"><ellipse cx="-12.0" cy="0" rx="2.0" ry="5.6"/><ellipse cx="-8.6" cy="0" rx="2.0" ry="5.6"/><ellipse cx="-5.1" cy="0" rx="2.0" ry="5.6"/><ellipse cx="-1.7" cy="0" rx="2.0" ry="5.6"/><ellipse cx="1.7" cy="0" rx="2.0" ry="5.6"/><ellipse cx="5.1" cy="0" rx="2.0" ry="5.6"/><ellipse cx="8.6" cy="0" rx="2.0" ry="5.6"/><ellipse cx="12.0" cy="0" rx="2.0" ry="5.6"/></g>
<g transform="translate(279.3 374.0) rotate(28)"><path d="M-13,-4.5 L13,-5 M-13,4.5 L13,5"/></g>
<ellipse cx="297.3" cy="382.7" rx="3.0" ry="3.6" transform="rotate(28 297.3 382.7)"/>
<ellipse cx="297.3" cy="382.7" rx="1.3" ry="1.6" transform="rotate(28 297.3 382.7)"/>
<ellipse cx="304.4" cy="387.2" rx="2.8" ry="3.0"/>
<ellipse cx="304.4" cy="387.2" rx="1.0" ry="1.0"/>
<g transform="translate(319 394.6) rotate(28)"><path d="M-11,-3 L8,-2.5 L8,2.5 L-11,3 Q-13,0 -11,-3 Z M-9,-3 L-9,3"/></g>
<ellipse cx="328.5" cy="398.8" rx="3.8" ry="3.4"/>
<polyline points="328.50,395.40 328.50,391.50"/>
<ellipse cx="328.5" cy="390.8" rx="1.2" ry="1.2"/>
<path d="M321.5,378.5 Q321.5,376 323.5,375.5 L324.5,373 Q325.5,372 326.5,373 L327.5,375.5 Q329.5,376 329.5,378.5 Q325.5,380.5 321.5,378.5 Z"/>
<ellipse cx="326.2" cy="385.9" rx="2.5" ry="2.3"/>
<ellipse cx="326.2" cy="385.9" rx="1" ry="1"/>
<path d="M316.6,83 Q319,81.8 321.6,83 L321.6,86 L316.6,86 Z M317,86 L317,89 L321.2,89 L321.2,86 M317.4,89 L317.4,92 L320.8,92 L320.8,89"/>
<path d="M335,91.6 Q335.5,88.4 337.7,88.4 Q340,88.4 340.5,91.6 Z"/>
<path d="M332.8,98 Q333,95.8 336,95.8 L339.5,95.8 Q342.2,95.8 342.2,98.5 L342.2,108 Q342,110.4 339,110.4 L335.5,110.4 Q333,110.4 332.6,108.5 Z"/>
<path d="M342.2,103.8 Q345,103.8 345,105.5 Q345,107.2 342.2,107.2"/>
<path d="M332.8,102.8 Q331,105 332.6,108"/>
<polyline points="332.80,101.50 342.20,101.50"/>
<ellipse cx="337.8" cy="116.2" rx="3.0" ry="1.7"/>
<ellipse cx="337.8" cy="116.2" rx="1.6" ry="0.8"/>
<ellipse cx="337.6" cy="121.4" rx="3.3" ry="1.8"/>
<ellipse cx="337.6" cy="121.4" rx="1.8" ry="0.9"/>
<path d="M335.5,127.5 Q336.5,125.2 338.2,125.2 Q340,125.2 340.9,127.5 Z"/>
<path d="M335,129.8 L340,129.8 L340,132.2 L335,132.2 Z M335,133.2 L340,133.2 L340,135.6 L335,135.6 Z M335,136.4 L340,136.4 L340,138.7 L335,138.7 Z"/>
<rect x="340.5" y="130.5" width="11.0" height="7.0"/>
<polyline points="340.90,132.50 351.60,132.50"/>
<polyline points="340.90,135.50 351.60,135.50"/>
<path d="M334.4,143 Q334.4,140.9 338.1,140.9 Q341.9,140.9 341.9,143 L341.9,148.4 Q341.9,150.5 338.1,150.5 Q334.4,150.5 334.4,148.4 Z"/>
<polyline points="334.40,145.50 341.90,145.50"/>
<polyline points="334.40,147.50 341.90,147.50"/>
<path d="M335,155.8 Q335,154.2 338.4,154.2 Q341.9,154.2 341.9,155.8 Q341.9,157.4 338.4,157.4 Q335,157.4 335,155.8 Z"/>
<path d="M334.4,164.4 L334.8,162.8 L337,162.6 L337.6,163.4 L341.4,163.6 L341.4,164.4 Z"/>
<path d="M336.2,175.3 L336.2,170.5 Q337.5,168.8 338.8,170.5 L338.8,175.3"/>
<path d="M335.5,177 L336.2,175.3 L338.8,175.3 L341,177 L341,195.8 L335.5,195.8 Z"/>
<polyline points="335.50,181.50 341.00,181.50"/>
<path d="M334.4,196 L342,196 L342,199.5 L334.4,199.5 Z"/>
<path d="M336,199.5 L336,204 Q338,207 340,204 L340,199.5 M336,202 L340,202"/>
<path d="M334.5,209.2 L340.5,209.2 L340.5,224.6 L334.5,224.6 Z"/>
<polyline points="334.50,212.50 340.50,212.50"/>
<polyline points="334.50,216.50 340.50,216.50"/>
<polyline points="334.50,220.50 340.50,220.50"/>
<polyline points="340.50,210.50 351.90,210.50"/>
<polyline points="340.50,213.50 351.90,213.50"/>
<polyline points="340.50,215.50 351.90,215.50"/>
<polyline points="340.50,218.50 351.90,218.50"/>
<polyline points="340.50,221.50 351.90,221.50"/>
<polyline points="351.50,210.50 351.50,221.40"/>
<path d="M513.15,99.69 L514.85,97.89 L514.85,105.31 M513.15,105.31 L516.55,105.31" stroke="#e6e6e6"/>
<text x="504.4" y="105.8" font-size="12.5" fill="#e6e6e6" >A</text>
<polyline points="512.50,105.50 512.50,113.30"/>
<polyline points="503.00,113.50 521.50,113.50"/>
<polyline points="503.50,113.30 503.50,123.70"/>
<polyline points="507.50,113.30 507.50,123.70"/>
<polyline points="510.50,113.30 510.50,123.70"/>
<polyline points="514.50,113.30 514.50,123.70"/>
<polyline points="518.50,113.30 518.50,123.70"/>
<polyline points="521.50,113.30 521.50,123.70"/>
<ellipse cx="503" cy="127.4" rx="1.8" ry="3.6999999999999957"/>
<ellipse cx="503" cy="127.4" rx="0.7" ry="1.6999999999999957"/>
<ellipse cx="507.3" cy="127.4" rx="1.8" ry="3.6999999999999957"/>
<ellipse cx="507.3" cy="127.4" rx="0.7" ry="1.6999999999999957"/>
<ellipse cx="510.9" cy="127.4" rx="1.8" ry="3.6999999999999957"/>
<ellipse cx="510.9" cy="127.4" rx="0.7" ry="1.6999999999999957"/>
<ellipse cx="514.5" cy="127.4" rx="1.8" ry="3.6999999999999957"/>
<ellipse cx="514.5" cy="127.4" rx="0.7" ry="1.6999999999999957"/>
<ellipse cx="518" cy="127.4" rx="1.8" ry="3.6999999999999957"/>
<ellipse cx="518" cy="127.4" rx="0.7" ry="1.6999999999999957"/>
<ellipse cx="521.5" cy="127.4" rx="1.8" ry="3.6999999999999957"/>
<ellipse cx="521.5" cy="127.4" rx="0.7" ry="1.6999999999999957"/>
<text x="530.1 538.2" y="105.8" font-size="12.5" fill="#e6e6e6" >A2</text>
<polyline points="541.50,105.50 541.50,123.50"/>
<ellipse cx="541.5" cy="127.5" rx="2.1" ry="3.75"/>
<ellipse cx="541.5" cy="127.5" rx="0.8" ry="1.95"/>
<text x="548.8 556.9" y="105.8" font-size="12.5" fill="#e6e6e6" >A3</text>
<polyline points="555.50,105.50 555.50,123.50"/>
<ellipse cx="555.8" cy="127.6" rx="2.2" ry="3.75"/>
<ellipse cx="555.8" cy="127.6" rx="0.9000000000000001" ry="1.95"/>
<text x="569.0 577.1" y="105.8" font-size="12.5" fill="#e6e6e6" >A4</text>
<polyline points="576.50,105.50 576.50,113.40"/>
<polyline points="569.30,113.50 584.00,113.50"/>
<polyline points="569.50,113.40 569.50,123.00"/>
<polyline points="574.50,113.40 574.50,123.00"/>
<polyline points="579.50,113.40 579.50,123.00"/>
<polyline points="584.50,113.40 584.50,123.00"/>
<ellipse cx="569.3" cy="127.6" rx="2.1" ry="4.599999999999994"/>
<ellipse cx="569.3" cy="127.6" rx="1.0" ry="2.5999999999999943"/>
<ellipse cx="574.2" cy="127.6" rx="2.1" ry="4.599999999999994"/>
<ellipse cx="574.2" cy="127.6" rx="1.0" ry="2.5999999999999943"/>
<ellipse cx="579.1" cy="127.6" rx="2.1" ry="4.599999999999994"/>
<ellipse cx="579.1" cy="127.6" rx="1.0" ry="2.5999999999999943"/>
<ellipse cx="584.0" cy="127.6" rx="2.1" ry="4.599999999999994"/>
<ellipse cx="584.0" cy="127.6" rx="1.0" ry="2.5999999999999943"/>
<text x="590.6 598.7" y="105.8" font-size="12.5" fill="#e6e6e6" >A5</text>
<polyline points="598.50,105.50 598.50,124.20"/>
<ellipse cx="598.2" cy="127.8" rx="1.5" ry="3.25"/>
<text x="608.3 616.4" y="105.8" font-size="12.5" fill="#e6e6e6" >A6</text>
<polyline points="615.50,105.50 615.50,123.20"/>
<ellipse cx="615.8" cy="128.5" rx="3.2" ry="5.0"/>
<ellipse cx="615.8" cy="128.5" rx="1.9000000000000001" ry="3.2"/>
<circle cx="512.6" cy="172.2" r="6.3"/>
<text x="509.2" y="176.0" font-size="11.5" fill="#dcdcdc" stroke="none">5</text>
<circle cx="557.8" cy="172.2" r="6.3"/>
<text x="554.3" y="176.0" font-size="11.5" fill="#dcdcdc" stroke="none">6</text>
<polyline points="512.50,178.50 512.50,193.30"/>
<ellipse cx="512.6" cy="197" rx="1.9" ry="3.75"/>
<polyline points="557.50,178.50 557.50,189.50"/>
<ellipse cx="557.8" cy="195.8" rx="3.5" ry="7.0"/>
<ellipse cx="557.8" cy="195.8" rx="2.2" ry="5.2"/>
<path d="M590.95,171.49 L592.65,169.69 L592.65,177.11 M590.95,177.11 L594.35,177.11" stroke="#e6e6e6"/>
<text x="582.2" y="177.6" font-size="12.5" fill="#e6e6e6" >A</text>
<polyline points="588.50,177.50 588.50,186.40"/>
<polyline points="579.50,186.50 600.80,186.50"/>
<polyline points="579.50,186.40 579.50,193.90"/>
<polyline points="583.50,186.40 583.50,193.90"/>
<polyline points="588.50,186.40 588.50,193.90"/>
<polyline points="592.50,186.40 592.50,193.90"/>
<polyline points="596.50,186.40 596.50,193.90"/>
<polyline points="600.50,186.40 600.50,193.90"/>
<ellipse cx="579.5" cy="198.25" rx="1.9" ry="4.349999999999994"/>
<ellipse cx="579.5" cy="198.25" rx="0.7999999999999998" ry="2.3499999999999943"/>
<ellipse cx="583.8" cy="198.25" rx="1.9" ry="4.349999999999994"/>
<ellipse cx="583.8" cy="198.25" rx="0.7999999999999998" ry="2.3499999999999943"/>
<ellipse cx="588" cy="198.25" rx="1.9" ry="4.349999999999994"/>
<ellipse cx="588" cy="198.25" rx="0.7999999999999998" ry="2.3499999999999943"/>
<ellipse cx="592.3" cy="198.25" rx="1.9" ry="4.349999999999994"/>
<ellipse cx="592.3" cy="198.25" rx="0.7999999999999998" ry="2.3499999999999943"/>
<ellipse cx="596.6" cy="198.25" rx="1.9" ry="4.349999999999994"/>
<ellipse cx="596.6" cy="198.25" rx="0.7999999999999998" ry="2.3499999999999943"/>
<ellipse cx="600.8" cy="198.25" rx="1.9" ry="4.349999999999994"/>
<ellipse cx="600.8" cy="198.25" rx="0.7999999999999998" ry="2.3499999999999943"/>
<path d="M617.05,170.99 L618.75,169.19 L618.75,176.61 M617.05,176.61 L620.45,176.61" stroke="#e6e6e6"/>
<text x="608.3" y="177.1" font-size="12.5" fill="#e6e6e6" >B</text>
<polyline points="615.50,178.50 615.50,192.50"/>
<ellipse cx="615.2" cy="198" rx="3.0" ry="5.5"/>
<ellipse cx="615.2" cy="198" rx="1.7" ry="3.7"/>
<text x="624.3 632.4" y="177.1" font-size="12.5" fill="#e6e6e6" >B2</text>
<polyline points="632.50,178.50 632.50,194.50"/>
<rect x="631.5" y="194.5" width="3.0" height="7.0"/>
<text x="640.1 648.2" y="177.1" font-size="12.5" fill="#e6e6e6" >B3</text>
<polyline points="647.50,178.50 647.50,194.00"/>
<ellipse cx="647.4" cy="198" rx="2.0" ry="4.0"/>
<ellipse cx="647.4" cy="198" rx="0.7" ry="2.2"/>
<text x="658.3 666.4" y="177.1" font-size="12.5" fill="#e6e6e6" >B4</text>
<polyline points="665.50,178.50 665.50,192.50"/>
<ellipse cx="665.4" cy="198" rx="3.0" ry="5.5"/>
<ellipse cx="665.4" cy="198" rx="1.7" ry="3.7"/>
<text x="676.3 684.4" y="177.1" font-size="12.5" fill="#e6e6e6" >B5</text>
<polyline points="682.50,178.50 682.50,193.00"/>
<ellipse cx="682.3" cy="198" rx="3.0" ry="5.0"/>
<ellipse cx="682.3" cy="198" rx="1.7" ry="3.2"/>
<text x="526.3 534.4" y="288.6" font-size="12.5" fill="#e6e6e6" >A4</text>
<polyline points="533.50,289.50 533.50,297.50"/>
<polyline points="526.40,297.50 542.10,297.50"/>
<polyline points="526.50,297.50 526.50,306.50"/>
<polyline points="531.50,297.50 531.50,306.50"/>
<polyline points="536.50,297.50 536.50,306.50"/>
<polyline points="542.50,297.50 542.50,306.50"/>
<ellipse cx="526.4" cy="311.4" rx="2.1" ry="4.900000000000006"/>
<ellipse cx="526.4" cy="311.4" rx="1.0" ry="2.9000000000000057"/>
<ellipse cx="531.6" cy="311.4" rx="2.1" ry="4.900000000000006"/>
<ellipse cx="531.6" cy="311.4" rx="1.0" ry="2.9000000000000057"/>
<ellipse cx="536.9" cy="311.4" rx="2.1" ry="4.900000000000006"/>
<ellipse cx="536.9" cy="311.4" rx="1.0" ry="2.9000000000000057"/>
<ellipse cx="542.1" cy="311.4" rx="2.1" ry="4.900000000000006"/>
<ellipse cx="542.1" cy="311.4" rx="1.0" ry="2.9000000000000057"/>
<text x="546.0 554.1" y="288.6" font-size="12.5" fill="#e6e6e6" >A7</text>
<polyline points="553.50,289.50 553.50,305.50"/>
<ellipse cx="553.9" cy="311" rx="3.0" ry="5.5"/>
<ellipse cx="553.9" cy="311" rx="1.7" ry="3.7"/>
<text x="562.5 570.6" y="288.6" font-size="12.5" fill="#e6e6e6" >A8</text>
<polyline points="569.50,289.50 569.50,305.50"/>
<ellipse cx="569.4" cy="311" rx="3.0" ry="5.5"/>
<ellipse cx="569.4" cy="311" rx="1.7" ry="3.7"/>
<text x="586.3 594.4" y="290.3" font-size="12.5" fill="#e6e6e6" >B2</text>
<polyline points="594.50,291.00 594.50,308.50"/>
<ellipse cx="594.6" cy="312" rx="1.5" ry="3.25"/>
<text x="602.2 610.3" y="290.3" font-size="12.5" fill="#e6e6e6" >B3</text>
<polyline points="609.50,291.00 609.50,308.00"/>
<ellipse cx="609" cy="312" rx="2.0" ry="4.0"/>
<ellipse cx="609" cy="312" rx="0.7" ry="2.2"/>
<circle cx="510.8" cy="355.7" r="6.3"/>
<text x="507.4" y="359.5" font-size="11.5" fill="#dcdcdc" stroke="none">5</text>
<circle cx="534.1" cy="355.7" r="6.3"/>
<text x="530.6" y="359.5" font-size="11.5" fill="#dcdcdc" stroke="none">6</text>
<polyline points="513.50,362.00 513.50,377.50"/>
<ellipse cx="511.8" cy="381" rx="1.9" ry="3.5"/>
<polyline points="534.50,362.00 534.50,372.80"/>
<ellipse cx="534.5" cy="379.2" rx="3.5" ry="6.5"/>
<ellipse cx="534.5" cy="379.2" rx="2.2" ry="4.7"/>
<path d="M563.85,354.59 L565.55,352.79 L565.55,360.21 M563.85,360.21 L567.25,360.21" stroke="#e6e6e6"/>
<text x="555.1" y="360.7" font-size="12.5" fill="#e6e6e6" >A</text>
<polyline points="562.50,360.50 562.50,369.40"/>
<polyline points="553.50,369.50 572.30,369.50"/>
<polyline points="553.50,369.40 553.50,377.00"/>
<polyline points="557.50,369.40 557.50,377.00"/>
<polyline points="561.50,369.40 561.50,377.00"/>
<polyline points="564.50,369.40 564.50,377.00"/>
<polyline points="568.50,369.40 568.50,377.00"/>
<polyline points="572.50,369.40 572.50,377.00"/>
<ellipse cx="553.5" cy="381.3" rx="1.9" ry="4.300000000000011"/>
<ellipse cx="553.5" cy="381.3" rx="0.7999999999999998" ry="2.3000000000000114"/>
<ellipse cx="557.2" cy="381.3" rx="1.9" ry="4.300000000000011"/>
<ellipse cx="557.2" cy="381.3" rx="0.7999999999999998" ry="2.3000000000000114"/>
<ellipse cx="561" cy="381.3" rx="1.9" ry="4.300000000000011"/>
<ellipse cx="561" cy="381.3" rx="0.7999999999999998" ry="2.3000000000000114"/>
<ellipse cx="564.8" cy="381.3" rx="1.9" ry="4.300000000000011"/>
<ellipse cx="564.8" cy="381.3" rx="0.7999999999999998" ry="2.3000000000000114"/>
<ellipse cx="568.6" cy="381.3" rx="1.9" ry="4.300000000000011"/>
<ellipse cx="568.6" cy="381.3" rx="0.7999999999999998" ry="2.3000000000000114"/>
<ellipse cx="572.3" cy="381.3" rx="1.9" ry="4.300000000000011"/>
<ellipse cx="572.3" cy="381.3" rx="0.7999999999999998" ry="2.3000000000000114"/>
<text x="582.9 591.0" y="360.6" font-size="12.5" fill="#e6e6e6" >A2</text>
<polyline points="590.50,360.50 590.50,379.00"/>
<ellipse cx="590" cy="382" rx="2.0" ry="3.25"/>
<ellipse cx="590" cy="382" rx="0.7" ry="1.45"/>
<text x="599.8 607.9" y="360.6" font-size="12.5" fill="#e6e6e6" >A3</text>
<polyline points="606.50,360.50 606.50,378.00"/>
<rect x="604.5" y="378.5" width="4.0" height="8.0"/>
<text x="623.4 631.5" y="360.6" font-size="12.5" fill="#e6e6e6" >A6</text>
<polyline points="632.50,360.50 632.50,378.50"/>
<rect x="629.5" y="378.5" width="6.0" height="9.0"/>
<path d="M651.25,354.49 L652.95,352.69 L652.95,360.11 M651.25,360.11 L654.65,360.11" stroke="#e6e6e6"/>
<text x="642.5" y="360.6" font-size="12.5" fill="#e6e6e6" >B</text>
<polyline points="649.50,360.50 649.50,376.50"/>
<ellipse cx="649.2" cy="382" rx="3.5" ry="6.0"/>
<ellipse cx="649.2" cy="382" rx="2.2" ry="4.2"/>
<text x="658.8 666.9" y="360.6" font-size="12.5" fill="#e6e6e6" >B4</text>
<polyline points="665.50,360.50 665.50,376.80"/>
<ellipse cx="665.8" cy="382" rx="3.0" ry="5.5"/>
<ellipse cx="665.8" cy="382" rx="1.7" ry="3.7"/>
<text x="676.3 684.4" y="360.6" font-size="12.5" fill="#e6e6e6" >B5</text>
<polyline points="682.50,360.50 682.50,377.50"/>
<ellipse cx="682.2" cy="382" rx="2.5" ry="4.5"/>
<ellipse cx="682.2" cy="382" rx="1.2" ry="2.7"/>
</g>
</svg>
</body></html>
